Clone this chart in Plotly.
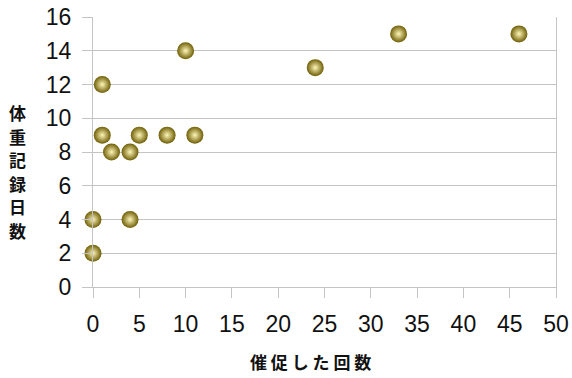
import plotly.graph_objects as go

reminders = [0, 0, 4, 1, 1, 2, 4, 5, 8, 11, 10, 24, 33, 46]
record_days = [2, 4, 4, 12, 9, 8, 8, 9, 9, 9, 14, 13, 15, 15]
x_ticks = [0, 5, 10, 15, 20, 25, 30, 35, 40, 45, 50]
y_ticks = [0, 2, 4, 6, 8, 10, 12, 14, 16]
x_title = "催 促 し た 回 数"
y_title = "体重記録日数"

fig = go.Figure()
fig.add_trace(go.Scatter(
    x=reminders, y=record_days, mode="markers",
    marker=dict(size=17, color="#6E5E06", symbol="circle",
                gradient=dict(type="radial", color="#FFF6B8"),
                line=dict(width=0)),
    cliponaxis=False, showlegend=False,
))

grid = "#C4C4C4"
tickfont = dict(family="Liberation Sans, Arial", size=23, color="#111")
fig.update_layout(
    width=572, height=378,
    margin=dict(l=93, r=16, t=17, b=91),
    paper_bgcolor="white", plot_bgcolor="white",
    xaxis=dict(range=[0, 50], tickvals=x_ticks, showgrid=False, automargin=False,
               showline=True, linecolor=grid, linewidth=1, zeroline=False,
               ticks="outside", ticklen=10, tickcolor=grid, tickwidth=1,
               tickfont=tickfont, ticklabelstandoff=6),
    yaxis=dict(range=[0, 16], tickvals=y_ticks, mirror=True, automargin=False,
               showgrid=True, gridcolor=grid, gridwidth=1,
               showline=True, linecolor=grid, linewidth=1, zeroline=False,
               ticks="outside", ticklen=10, tickcolor=grid, tickwidth=1,
               tickfont=tickfont, ticklabelstandoff=6),
)

title_font = dict(family="Noto Sans CJK JP", size=17, color="#111", weight=600)
annotations = [
    dict(text=x_title, xref="paper", yref="paper", x=0.47, y=-0.275,
         showarrow=False, yanchor="middle", font=title_font),
]
for i, ch in enumerate(y_title):
    annotations.append(dict(
        text=ch, xref="paper", yref="paper",
        x=-0.162, y=0.646 - i * 0.0873, showarrow=False,
        xanchor="center", yanchor="middle", font=title_font))
fig.update_layout(annotations=annotations)
fig.write_html("out.html")
